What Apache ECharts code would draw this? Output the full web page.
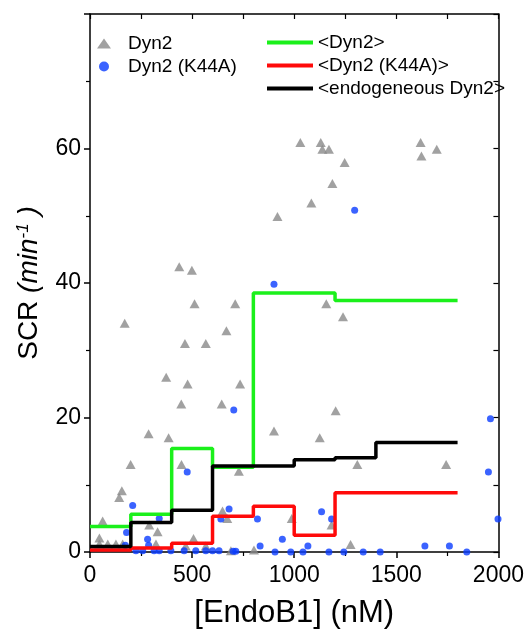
<!DOCTYPE html>
<html>
<head>
<meta charset="utf-8">
<script src="https://cdn.jsdelivr.net/npm/echarts@6/dist/echarts.min.js"></script>
<style>
  html, body { margin: 0; padding: 0; background: #fff; }
  #box1 { width: 527px; height: 634px; }
</style>
</head>
<body>
<div id="box1"></div>
<script>
// scatter data [EndoB1 nM, SCR]
var dyn2Points = [
  [46, 2.1], [46, 1.2], [62, 4.6], [87, 1.2], [127, 1.2], [143, 8.1], [156, 9.1], [160, 1.2],
  [170, 34.0], [199, 13.0], [287, 17.6], [290, 4.0], [323, 1.2], [331, 3.0], [373, 26.0],
  [385, 17.0], [437, 42.4], [447, 22.0], [448, 13.0], [465, 31.0], [469, 0.9], [478, 25.0],
  [499, 41.9], [507, 2.0], [512, 36.9], [567, 31.0], [567, 0.9], [645, 22.0], [649, 6.1],
  [668, 32.9], [672, 5.0], [690, 0.2], [711, 36.9], [729, 12.0], [735, 25.0], [803, 0.3],
  [901, 18.0], [918, 49.9], [988, 5.0], [1030, 60.9], [1084, 51.9], [1125, 17.0], [1130, 60.9],
  [1138, 59.9], [1157, 36.9], [1170, 59.9], [1183, 4.0], [1187, 54.8], [1203, 21.0], [1239, 35.0],
  [1247, 57.9], [1276, 1.1], [1309, 13.0], [1619, 60.9], [1623, 58.9], [1698, 59.9], [1744, 13.0]
];
var k44aPoints = [
  [173, 1.0], [179, 2.9], [209, 6.9], [225, 0.2], [258, 0.2], [282, 1.9], [287, 1.0], [314, 0.2],
  [339, 5.0], [339, 0.2], [396, 0.2], [461, 0.2], [476, 11.9], [518, 0.2], [567, 0.2], [600, 0.2],
  [632, 0.2], [641, 4.9], [681, 6.4], [701, 0.1], [704, 21.1], [714, 0.1], [820, 4.9], [833, 0.9],
  [901, 39.8], [906, 0], [942, 1.9], [983, 0], [1043, 0], [1067, 0.9], [1134, 6.0], [1170, 0],
  [1183, 4.9], [1243, 0], [1296, 50.8], [1338, 0], [1421, 0], [1640, 0.9], [1760, 0.9], [1845, 0],
  [1951, 11.9], [1961, 19.8], [1998, 4.9]
];

// binned averages (bins of 200 nM)
var binEdges = [0, 200, 400, 600, 800, 1000, 1200, 1400, 1600, 1800];
var dyn2Mean = [3.8, 5.6, 15.4, 12.6, 38.5, 38.5, 37.4, 37.4, 37.4];
var k44aMean = [0.3, 0.6, 1.3, 5.3, 6.8, 2.5, 8.8, 8.8, 8.8];
var endoMean = [0.8, 4.4, 6.2, 12.8, 12.8, 13.7, 14.0, 16.3, 16.3];

var xTicks = [0, 500, 1000, 1500, 2000];
var yTicks = [0, 20, 40, 60];

function stepData(vals) {
  var out = [];
  for (var i = 0; i < vals.length; i++) out.push([binEdges[i], vals[i]]);
  out.push([binEdges[binEdges.length - 1], vals[vals.length - 1]]);
  return out;
}

var chart = echarts.init(document.getElementById('box1'));
var FONT = 'Liberation Sans, Arial, sans-serif';

var option = {
  animation: false,
  textStyle: { fontFamily: FONT, color: '#000' },
  grid: { left: 90, right: 27, top: 14, bottom: 81 },
  legend: [{
    data: ['Dyn2', 'Dyn2 (K44A)'],
    orient: 'vertical',
    left: 92, top: 29,
    itemWidth: 14, itemHeight: 10, itemGap: 4,
    textStyle: { fontFamily: FONT, fontSize: 19, color: '#000', padding: [0, 0, 0, 12] }
  }, {
    data: ['<Dyn2>', '<Dyn2 (K44A)>', '<endogeneous Dyn2>'],
    orient: 'vertical',
    left: 262, top: 28,
    icon: 'rect',
    itemWidth: 46, itemHeight: 4, itemGap: 4,
    textStyle: { fontFamily: FONT, fontSize: 19, color: '#000', width: 190, overflow: 'truncate', ellipsis: '' }
  }],
  xAxis: [{
    type: 'value', min: 0, max: 2000, interval: 500,
    name: '[EndoB1] (nM)', nameLocation: 'middle', nameGap: 46,
    nameTextStyle: { fontFamily: FONT, fontSize: 31, color: '#000' },
    axisLine: { lineStyle: { color: '#000', width: 1.5 } },
    axisTick: { length: 6, lineStyle: { color: '#000', width: 1.5 } },
    minorTick: { show: true, splitNumber: 2, length: 4, lineStyle: { color: '#000', width: 1.2 } },
    splitLine: { show: false },
    axisLabel: { fontFamily: FONT, fontSize: 23, color: '#000', margin: 12,
      formatter: function (v) { return xTicks.indexOf(v) >= 0 ? String(v) : ''; } }
  }, {
    // mirrored top axis, ticks only
    type: 'value', min: 0, max: 2000, interval: 500, position: 'top',
    axisLine: { show: true, onZero: false, lineStyle: { color: '#000', width: 1.5 } },
    axisTick: { inside: true, length: 5, lineStyle: { color: '#000', width: 1.2 } },
    minorTick: { show: true, splitNumber: 2, length: 5, lineStyle: { color: '#000', width: 1.2 } },
    axisLabel: { show: false },
    splitLine: { show: false }
  }],
  yAxis: [{
    type: 'value', min: 0, max: 80, interval: 20,
    name: '{u|SCR }{i|(min}{s|-1}{i| )}', nameLocation: 'middle', nameGap: 46, nameRotate: 90,
    nameTextStyle: {
      rich: {
        u: { fontFamily: FONT, fontSize: 28, color: '#000' },
        i: { fontFamily: FONT, fontSize: 28, fontStyle: 'italic', color: '#000' },
        s: { fontFamily: FONT, fontSize: 17, fontStyle: 'italic', color: '#000', verticalAlign: 'top', padding: [0, 0, 12, 0] }
      }
    },
    axisLine: { lineStyle: { color: '#000', width: 1.5 } },
    axisTick: { length: 6, lineStyle: { color: '#000', width: 1.5 } },
    minorTick: { show: true, splitNumber: 2, length: 4, lineStyle: { color: '#000', width: 1.2 } },
    splitLine: { show: false },
    axisLabel: { fontFamily: FONT, fontSize: 23, color: '#000', margin: 9,
      formatter: function (v) { return yTicks.indexOf(v) >= 0 ? String(v) : ''; } }
  }, {
    // mirrored right axis, ticks only
    type: 'value', min: 0, max: 80, interval: 10, position: 'right',
    axisLine: { show: true, onZero: false, lineStyle: { color: '#000', width: 1.5 } },
    axisTick: { inside: true, length: 5, lineStyle: { color: '#000', width: 1.2 } },
    axisLabel: { show: false },
    splitLine: { show: false }
  }],
  series: [{
    name: 'Dyn2',
    type: 'scatter',
    symbol: 'triangle',
    symbolSize: [10, 9],
    itemStyle: { color: '#8a8a8a' },
    data: dyn2Points
  }, {
    name: 'Dyn2 (K44A)',
    type: 'scatter',
    symbol: 'circle',
    symbolSize: 7,
    itemStyle: { color: '#0a3cff' },
    data: k44aPoints
  }, {
    name: '<Dyn2>',
    type: 'line', step: 'end', symbol: 'none',
    lineStyle: { color: '#1bf01b', width: 3.5 },
    itemStyle: { color: '#1bf01b' },
    data: stepData(dyn2Mean)
  }, {
    name: '<Dyn2 (K44A)>',
    type: 'line', step: 'end', symbol: 'none',
    lineStyle: { color: '#ff0a0a', width: 3.5 },
    itemStyle: { color: '#ff0a0a' },
    data: stepData(k44aMean)
  }, {
    name: '<endogeneous Dyn2>',
    type: 'line', step: 'end', symbol: 'none',
    lineStyle: { color: '#000', width: 3.5 },
    itemStyle: { color: '#000' },
    data: stepData(endoMean)
  }]
};

chart.setOption(option);
</script>
</body>
</html>
